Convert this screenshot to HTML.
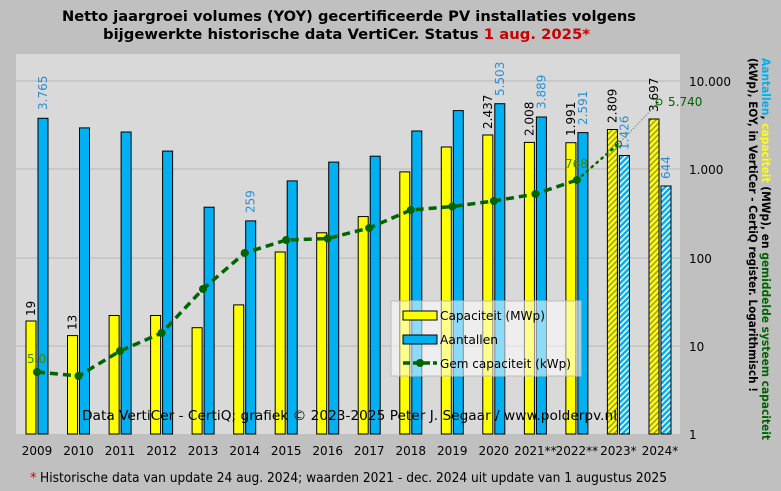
<!DOCTYPE html>
<html><head><meta charset="utf-8"><style>
html,body{margin:0;padding:0;background:#c0c0c0;}
svg{display:block;font-family:"DejaVu Sans","Liberation Sans",sans-serif;}
</style></head><body>
<svg width="781" height="491" viewBox="0 0 781 491" xmlns="http://www.w3.org/2000/svg">
<defs>
<pattern id="hy" width="4" height="4" patternUnits="userSpaceOnUse" patternTransform="rotate(45)">
<rect width="4" height="4" fill="#ffff00"/><rect width="1.5" height="4" fill="#9a9a40"/></pattern>
<pattern id="hb" width="4" height="4" patternUnits="userSpaceOnUse" patternTransform="rotate(45)">
<rect width="4" height="4" fill="#00b0f0"/><rect width="1.5" height="4" fill="#ffffff"/></pattern>
</defs>
<rect width="781" height="491" fill="#c0c0c0"/>
<text x="62" y="21" font-size="14" font-weight="bold" fill="#000" textLength="574" lengthAdjust="spacingAndGlyphs">Netto jaargroei volumes (YOY) gecertificeerde PV installaties volgens</text>
<text x="103" y="39" font-size="14" font-weight="bold" fill="#000" textLength="487" lengthAdjust="spacingAndGlyphs">bijgewerkte historische data VertiCer. Status <tspan fill="#cc0000">1 aug. 2025*</tspan></text>
<rect x="16" y="54" width="664" height="380" fill="#d9d9d9"/>
<g stroke="#b8b8b8" stroke-width="1">
<line x1="16" y1="81" x2="680" y2="81"/><line x1="16" y1="169" x2="680" y2="169"/>
<line x1="16" y1="258" x2="680" y2="258"/><line x1="16" y1="346" x2="680" y2="346"/>
</g>
<g stroke="#000" stroke-width="1">
<rect x="26" y="321" width="10" height="113" fill="#ffff00"/><rect x="38" y="118.3" width="10" height="315.7" fill="#00b0f0"/>
<rect x="67.5" y="335.6" width="10" height="98.4" fill="#ffff00"/><rect x="79.5" y="127.9" width="10" height="306.1" fill="#00b0f0"/>
<rect x="109.1" y="315.5" width="10" height="118.5" fill="#ffff00"/><rect x="121.1" y="132" width="10" height="302" fill="#00b0f0"/>
<rect x="150.6" y="315.5" width="10" height="118.5" fill="#ffff00"/><rect x="162.6" y="151.1" width="10" height="282.9" fill="#00b0f0"/>
<rect x="192.1" y="327.7" width="10" height="106.3" fill="#ffff00"/><rect x="204.1" y="207.2" width="10" height="226.8" fill="#00b0f0"/>
<rect x="233.7" y="304.9" width="10" height="129.1" fill="#ffff00"/><rect x="245.7" y="220.9" width="10" height="213.1" fill="#00b0f0"/>
<rect x="275.2" y="252" width="10" height="182" fill="#ffff00"/><rect x="287.2" y="180.9" width="10" height="253.1" fill="#00b0f0"/>
<rect x="316.7" y="232.8" width="10" height="201.2" fill="#ffff00"/><rect x="328.7" y="162.1" width="10" height="271.9" fill="#00b0f0"/>
<rect x="358.2" y="216.6" width="10" height="217.4" fill="#ffff00"/><rect x="370.2" y="156.2" width="10" height="277.8" fill="#00b0f0"/>
<rect x="399.8" y="171.9" width="10" height="262.1" fill="#ffff00"/><rect x="411.8" y="131" width="10" height="303" fill="#00b0f0"/>
<rect x="441.3" y="147" width="10" height="287" fill="#ffff00"/><rect x="453.3" y="110.6" width="10" height="323.4" fill="#00b0f0"/>
<rect x="482.8" y="135" width="10" height="299" fill="#ffff00"/><rect x="494.8" y="103.7" width="10" height="330.3" fill="#00b0f0"/>
<rect x="524.4" y="142.4" width="10" height="291.6" fill="#ffff00"/><rect x="536.4" y="117" width="10" height="317" fill="#00b0f0"/>
<rect x="565.9" y="142.7" width="10" height="291.3" fill="#ffff00"/><rect x="577.9" y="132.6" width="10" height="301.4" fill="#00b0f0"/>
<rect x="607.4" y="129.5" width="10" height="304.5" fill="url(#hy)"/><rect x="619.4" y="155.5" width="10" height="278.5" fill="url(#hb)"/>
<rect x="649" y="119" width="10" height="315" fill="url(#hy)"/><rect x="661" y="186" width="10" height="248" fill="url(#hb)"/>
</g>
<g font-size="12">
<text transform="translate(35,316) rotate(-90)" fill="#000">19</text>
<text transform="translate(47,110) rotate(-90)" fill="#2b8fd8">3.765</text>
<text transform="translate(76.5,330) rotate(-90)" fill="#000">13</text>
<text transform="translate(254.7,213) rotate(-90)" fill="#2b8fd8">259</text>
<text transform="translate(491.8,129) rotate(-90)" fill="#000">2.437</text>
<text transform="translate(503.8,96) rotate(-90)" fill="#2b8fd8">5.503</text>
<text transform="translate(533.4,136) rotate(-90)" fill="#000">2.008</text>
<text transform="translate(545.4,109) rotate(-90)" fill="#2b8fd8">3.889</text>
<text transform="translate(574.9,136) rotate(-90)" fill="#000">1.991</text>
<text transform="translate(586.9,125) rotate(-90)" fill="#2b8fd8">2.591</text>
<text transform="translate(616.4,123) rotate(-90)" fill="#000">2.809</text>
<text transform="translate(628.4,150) rotate(-90)" fill="#2b8fd8">1.426</text>
<text transform="translate(658,112) rotate(-90)" fill="#000">3.697</text>
<text transform="translate(670,179) rotate(-90)" fill="#2b8fd8">644</text>
</g>
<polyline points="37,372 78.5,376 120,351 161.6,333 203,289 244.7,253 286.2,240 327.7,238.5 369.2,228 410.8,210 452.3,206.5 493.8,201 535.4,194 576.9,180" fill="none" stroke="#006400" stroke-width="3.5" stroke-dasharray="8,5"/>
<g fill="#006400">
<circle cx="37" cy="372" r="4"/><circle cx="78.5" cy="376" r="4"/><circle cx="120" cy="351" r="4"/><circle cx="161.6" cy="333" r="4"/><circle cx="203" cy="289" r="4"/><circle cx="244.7" cy="253" r="4"/><circle cx="286.2" cy="240" r="4"/><circle cx="327.7" cy="238.5" r="4"/><circle cx="369.2" cy="228" r="4"/><circle cx="410.8" cy="210" r="4"/><circle cx="452.3" cy="206.5" r="4"/><circle cx="493.8" cy="201" r="4"/><circle cx="535.4" cy="194" r="4"/><circle cx="576.9" cy="180" r="4"/>
</g>
<line x1="576.9" y1="180" x2="618.4" y2="144" stroke="#006400" stroke-width="2.5" stroke-dasharray="1.5,5" stroke-linecap="round"/>
<line x1="618.4" y1="144" x2="659" y2="102" stroke="#5a9a5a" stroke-width="1" stroke-dasharray="1.5,1.5"/>
<circle cx="618.4" cy="144" r="3" fill="none" stroke="#006400" stroke-width="1"/>
<circle cx="659" cy="102" r="3" fill="none" stroke="#006400" stroke-width="1"/>
<text x="668" y="106" font-size="12" fill="#006400">5.740</text>
<text x="565" y="168" font-size="12" fill="#3a8a00">768</text>
<text x="27" y="363" font-size="12" fill="#3a8a00">5,0</text>
<rect x="391" y="301" width="190" height="75" fill="#ffffff" fill-opacity="0.55" stroke="#bcbcbc"/>
<rect x="403" y="311" width="34" height="9" fill="#ffff00" stroke="#000"/>
<text x="440" y="320" font-size="12.5" fill="#000" textLength="105" lengthAdjust="spacingAndGlyphs">Capaciteit (MWp)</text>
<rect x="403" y="335" width="34" height="9" fill="#00b0f0" stroke="#000"/>
<text x="440" y="344" font-size="12.5" fill="#000" textLength="58" lengthAdjust="spacingAndGlyphs">Aantallen</text>
<line x1="403" y1="363" x2="437" y2="363" stroke="#006400" stroke-width="3.5" stroke-dasharray="7,3"/>
<circle cx="420" cy="363" r="4" fill="#006400"/>
<text x="440" y="368" font-size="12.5" fill="#000" textLength="131" lengthAdjust="spacingAndGlyphs">Gem capaciteit (kWp)</text>
<text x="82" y="420" font-size="13" fill="#000" textLength="535" lengthAdjust="spacingAndGlyphs">Data VertiCer - CertiQ; grafiek © 2023-2025 Peter J. Segaar / www.polderpv.nl</text>
<g font-size="12" fill="#000">
<text x="689" y="86">10.000</text><text x="689" y="174">1.000</text><text x="689" y="263">100</text><text x="689" y="351">10</text><text x="689" y="439">1</text>
</g>
<g font-size="12" fill="#000" text-anchor="middle">
<text x="37" y="455">2009</text><text x="78.5" y="455">2010</text><text x="120" y="455">2011</text><text x="161.6" y="455">2012</text><text x="203" y="455">2013</text><text x="244.7" y="455">2014</text><text x="286.2" y="455">2015</text><text x="327.7" y="455">2016</text><text x="369.2" y="455">2017</text><text x="410.8" y="455">2018</text><text x="452.3" y="455">2019</text><text x="493.8" y="455">2020</text><text x="535.4" y="455">2021**</text><text x="576.9" y="455">2022**</text><text x="618.4" y="455">2023*</text><text x="660" y="455">2024*</text>
</g>
<text x="30" y="482" font-size="13" fill="#cc0000">*</text>
<text x="40" y="482" font-size="13" fill="#000" textLength="627" lengthAdjust="spacingAndGlyphs">Historische data van update 24 aug. 2024; waarden 2021 - dec. 2024 uit update van 1 augustus 2025</text>
<g font-size="11.5" font-weight="bold">
<text transform="translate(762,58) rotate(90)" textLength="382" lengthAdjust="spacingAndGlyphs"><tspan fill="#00b0f0">Aantallen</tspan><tspan fill="#000">, </tspan><tspan fill="#ffff00">capaciteit</tspan><tspan fill="#000"> (MWp), en </tspan><tspan fill="#006400">gemiddelde systeem capaciteit</tspan></text>
<text transform="translate(749,58) rotate(90)" fill="#000" textLength="334" lengthAdjust="spacingAndGlyphs">(kWp), EOY, in VertiCer - CertiQ register. Logarithmisch !</text>
</g>
</svg>
</body></html>
